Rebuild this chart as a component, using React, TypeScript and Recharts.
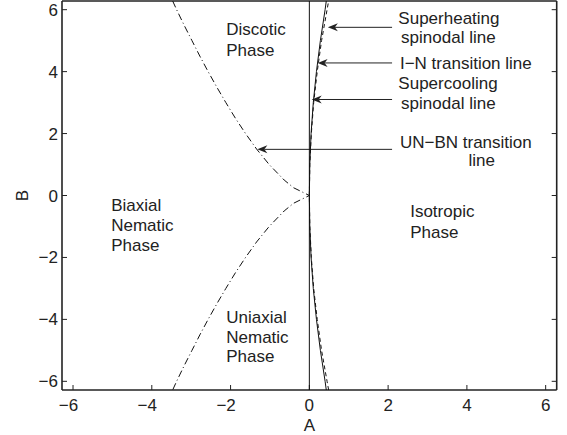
import { ScatterChart, Scatter, XAxis, YAxis, ReferenceLine, ReferenceDot } from 'recharts';

const AXIS_TICKS = [-6, -4, -2, 0, 2, 4, 6];
const DOMAIN: [number, number] = [-6.28, 6.28];

// UN-BN transition line (dash-dot), read top -> cusp at origin -> bottom
const UNBN_B = [6.28, 6, 5.5, 5, 4.5, 4, 3.5, 3, 2.5, 2, 1.5, 1, 0.5, 0.25, 0, -0.25, -0.5, -1, -1.5, -2, -2.5, -3, -3.5, -4, -4.5, -5, -5.5, -6, -6.28];
const UNBN_A = [-3.47, -3.37, -3.18, -2.98, -2.78, -2.57, -2.35, -2.12, -1.88, -1.62, -1.34, -1.02, -0.64, -0.4, 0, -0.4, -0.64, -1.02, -1.34, -1.62, -1.88, -2.12, -2.35, -2.57, -2.78, -2.98, -3.18, -3.37, -3.47];

// I-N transition line (solid)
const IN_B = [-6.28, -6, -5, -4, -3, -2, -1, 0, 1, 2, 3, 4, 5, 6, 6.28];
const IN_A = [0.43, 0.4, 0.28, 0.18, 0.1, 0.044, 0.011, 0, 0.011, 0.044, 0.1, 0.18, 0.28, 0.4, 0.43];

// superheating spinodal (dashed)
const SH_B = [-6.28, -6, -5, -4, -3, -2, -1, 0, 1, 2, 3, 4, 5, 6, 6.28];
const SH_A = [0.49, 0.45, 0.31, 0.2, 0.11, 0.05, 0.012, 0, 0.012, 0.05, 0.11, 0.2, 0.31, 0.45, 0.49];

// supercooling spinodal (vertical solid, A = 0)
const SC_B = [-6.28, 6.28];
const SC_A = [0, 0];

// annotation arrows: tail A, tip A, B
const ARROWS = [
  { from: 2.1, to: 0.47, b: 5.43 },
  { from: 2.1, to: 0.21, b: 4.28 },
  { from: 2.1, to: 0.06, b: 3.1 },
  { from: 2.1, to: -1.32, b: 1.49 },
];

const LABELS = [
  { a: -2.11, b: 5.19, text: 'Discotic' },
  { a: -2.11, b: 4.52, text: 'Phase' },
  { a: -5.03, b: -0.5, text: 'Biaxial' },
  { a: -5.03, b: -1.14, text: 'Nematic' },
  { a: -5.03, b: -1.79, text: 'Phase' },
  { a: -2.11, b: -4.13, text: 'Uniaxial' },
  { a: -2.11, b: -4.77, text: 'Nematic' },
  { a: -2.11, b: -5.38, text: 'Phase' },
  { a: 2.56, b: -0.69, text: 'Isotropic' },
  { a: 2.56, b: -1.36, text: 'Phase' },
  { a: 2.26, b: 5.55, text: 'Superheating' },
  { a: 2.33, b: 4.91, text: 'spinodal line' },
  { a: 2.3, b: 4.09, text: 'I\u2212N transition line' },
  { a: 2.26, b: 3.43, text: 'Supercooling' },
  { a: 2.33, b: 2.78, text: 'spinodal line' },
  { a: 2.3, b: 1.53, text: 'UN\u2212BN transition' },
  { a: 4.04, b: 0.95, text: 'line' },
];

const zip = (as: number[], bs: number[]) => as.map((a, i) => ({ A: a, B: bs[i] }));

const FONT = '"Liberation Sans", Arial, Helvetica, sans-serif';
const INK = '#222';

const fmt = (v: number) => (v < 0 ? `\u2212${-v}` : `${v}`);

const XTick = ({ x, y, payload }: any) => (
  <text x={x + (payload.value < 0 ? -4.5 : 0)} y={y} dy={11} textAnchor="middle" fontSize={17} fontFamily={FONT} fill={INK}>
    {fmt(payload.value)}
  </text>
);

const YTick = ({ x, y, payload }: any) => (
  <text x={x} y={y} dy={6} textAnchor="end" fontSize={17} fontFamily={FONT} fill={INK}>
    {fmt(payload.value)}
  </text>
);

const Arrow = ({ x1, y1, x2, y2 }: any) => {
  const len = Math.hypot(x2 - x1, y2 - y1) || 1;
  const ux = (x2 - x1) / len;
  const uy = (y2 - y1) / len;
  const px = -uy;
  const py = ux;
  const L = 10;
  const W = 4;
  const nx = x2 - ux * 7;
  const ny = y2 - uy * 7;
  const pts = [
    [x2, y2],
    [x2 - ux * L + px * W, y2 - uy * L + py * W],
    [nx, ny],
    [x2 - ux * L - px * W, y2 - uy * L - py * W],
  ]
    .map((p) => p.join(','))
    .join(' ');
  return (
    <g>
      <line x1={x1} y1={y1} x2={nx} y2={ny} stroke={INK} strokeWidth={1} />
      <polygon points={pts} fill={INK} stroke="none" />
    </g>
  );
};

const hidden = () => <g />;
const frame = { stroke: INK, strokeWidth: 1.6 };
const tickLine = { stroke: INK, strokeWidth: 1 };

export default function App() {
  return (
    <div style={{ position: 'absolute', left: 0, top: 0, width: 567, height: 435, background: '#fff' }}>
      <ScatterChart width={567} height={435} margin={{ top: 0, right: 9.3, bottom: 15, left: 2 }}>
        <XAxis
          type="number"
          dataKey="A"
          domain={DOMAIN}
          ticks={AXIS_TICKS}
          allowDataOverflow
          height={30}
          tickSize={-5}
          tickMargin={15}
          axisLine={frame}
          tickLine={tickLine}
          tick={<XTick />}
          label={{
            content: ({ viewBox }: any) => (
              <text x={viewBox.x + viewBox.width / 2} y={viewBox.y + 41} textAnchor="middle" fontSize={17} fontFamily={FONT} fill={INK}>
                A
              </text>
            ),
          }}
        />
        <XAxis
          xAxisId="top"
          orientation="top"
          type="number"
          domain={DOMAIN}
          ticks={AXIS_TICKS}
          allowDataOverflow
          height={1}
          tickSize={-5}
          axisLine={frame}
          tickLine={tickLine}
          tickFormatter={() => ''}
        />
        <YAxis
          type="number"
          dataKey="B"
          domain={DOMAIN}
          ticks={AXIS_TICKS}
          allowDataOverflow
          width={60}
          tickSize={-5}
          tickMargin={9}
          axisLine={frame}
          tickLine={tickLine}
          tick={<YTick />}
          label={{
            content: ({ viewBox }: any) => {
              const x = viewBox.x + 26;
              const y = viewBox.y + viewBox.height / 2;
              return (
                <text x={x} y={y} transform={`rotate(-90, ${x}, ${y})`} textAnchor="middle" fontSize={17} fontFamily={FONT} fill={INK}>
                  B
                </text>
              );
            },
          }}
        />
        <YAxis
          yAxisId="right"
          orientation="right"
          type="number"
          domain={DOMAIN}
          ticks={AXIS_TICKS}
          allowDataOverflow
          width={1}
          tickSize={-5}
          axisLine={frame}
          tickLine={tickLine}
          tickFormatter={() => ''}
        />

        <Scatter
          data={zip(SC_A, SC_B)}
          shape={hidden}
          line={{ stroke: '#111', strokeWidth: 1 }}
          isAnimationActive={false}
        />
        <Scatter
          data={zip(IN_A, IN_B)}
          shape={hidden}
          line={{ stroke: '#111', strokeWidth: 1 }}
          isAnimationActive={false}
        />
        <Scatter
          data={zip(SH_A, SH_B)}
          shape={hidden}
          line={{ stroke: '#111', strokeWidth: 1, strokeDasharray: '4 3' }}
          isAnimationActive={false}
        />
        <Scatter
          data={zip(UNBN_A, UNBN_B)}
          shape={hidden}
          line={{ stroke: '#111', strokeWidth: 1, strokeDasharray: '7 3 1 3' }}
          isAnimationActive={false}
        />

        {ARROWS.map((ar, i) => (
          <ReferenceLine
            key={`arrow-${i}`}
            segment={[
              { x: ar.from, y: ar.b },
              { x: ar.to, y: ar.b },
            ]}
            ifOverflow="visible"
            shape={(p: any) => <Arrow {...p} />}
          />
        ))}

        {LABELS.map((l, i) => (
          <ReferenceDot
            key={`label-${i}`}
            x={l.a}
            y={l.b}
            r={0}
            ifOverflow="visible"
            shape={(p: any) => (
              <text x={p.cx} y={p.cy} fontSize={17} fontFamily={FONT} fill={INK}>
                {l.text}
              </text>
            )}
          />
        ))}
      </ScatterChart>
    </div>
  );
}
